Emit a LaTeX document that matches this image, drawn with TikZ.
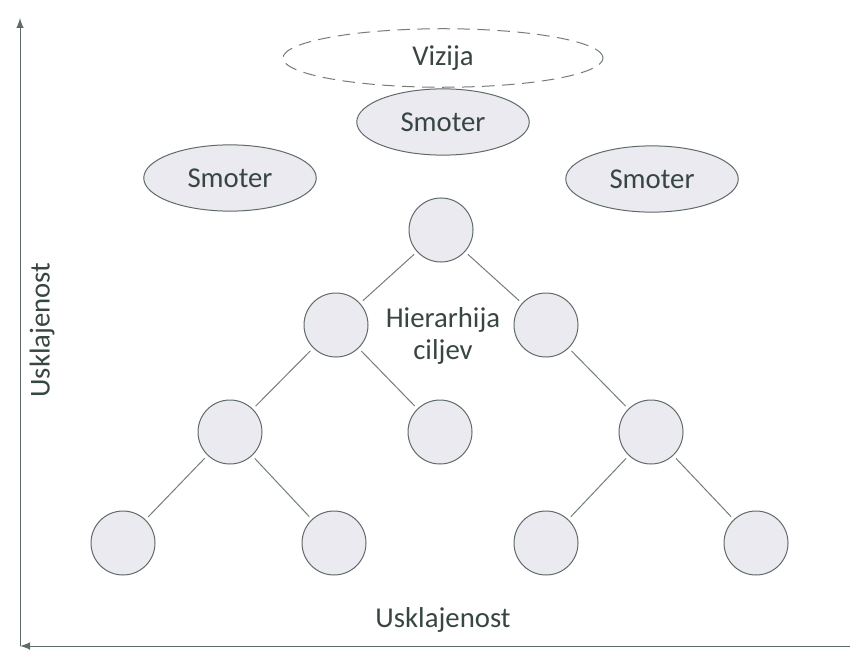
\documentclass[tikz,border=0pt]{standalone}
\usepackage{fontspec}
\setmainfont{Carlito}
\usepackage{tikz}
\usetikzlibrary{shapes,shapes.geometric,arrows}
\definecolor{ink}{RGB}{55,70,64}
\definecolor{blob}{RGB}{234,234,240}

\begin{document}
\begin{tikzpicture}[x=0.4pt,y=-0.4pt,font=\fontsize{11.5}{13}\selectfont,text=ink]
\tikzstyle{goal}=[draw=ink!80,fill=blob,shape=circle,minimum size=25.6pt,inner sep=0pt]
\tikzstyle{smoter}=[draw=ink!80,fill=blob,shape=ellipse,minimum width=69pt,minimum height=26.5pt,inner sep=0pt]
\tikzstyle{link}=[draw=ink!70,shorten >=1.5pt,shorten <=1.5pt]
\useasboundingbox (0,0) rectangle (850,652);

% axes
\coordinate (o) at (20,646);
\coordinate (top) at (20,18);
\coordinate (right) at (850,646);
\draw[ink!80,-latex] (o) -- (top);
\draw[ink!80,latex-] (o) -- (right);
\node[rotate=90] (uy) at (42,330) {Usklajenost};
\node (ux) at (443,620) {Usklajenost};

% vizija in smotri
\node[draw=ink!70,dash pattern=on 5pt off 3pt,shape=ellipse,minimum width=128pt,minimum height=19pt] (viz) at (443,58) {Vizija};
\node[smoter] (smC) at (443,122) {Smoter};
\node[smoter] (smL) at (230,178) {Smoter};
\node[smoter] (smR) at (652,179) {Smoter};

% hierarhija ciljev
\node[goal] (g0) at (441,230) {};
\node[goal] (g1a) at (336,325) {};
\node[goal] (g1b) at (546,325) {};
\node[goal] (g2a) at (230,432) {};
\node[goal] (g2b) at (440,432) {};
\node[goal] (g2c) at (651,432) {};
\node[goal] (g3a) at (123,543) {};
\node[goal] (g3b) at (334,543) {};
\node[goal] (g3c) at (546,543) {};
\node[goal] (g3d) at (756,543) {};
\node[align=center] (hc) at (443,336) {Hierarhija\\ciljev};

\draw[link] (g0) -- (g1a);
\draw[link] (g0) -- (g1b);
\draw[link] (g1a) -- (g2a);
\draw[link] (g1a) -- (g2b);
\draw[link] (g1b) -- (g2c);
\draw[link] (g2a) -- (g3a);
\draw[link] (g2a) -- (g3b);
\draw[link] (g2c) -- (g3c);
\draw[link] (g2c) -- (g3d);

\end{tikzpicture}
\end{document}
